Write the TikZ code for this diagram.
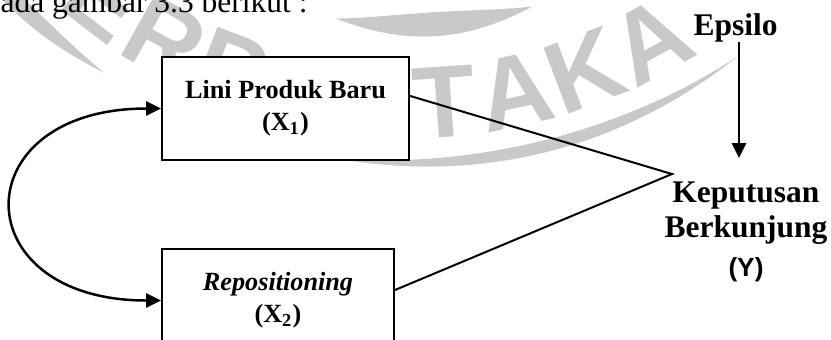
\documentclass[tikz,border=0pt]{standalone}
\usepackage{fontspec}
\setmainfont{Liberation Serif}
\newfontfamily\arialfont{Liberation Sans}
\usetikzlibrary{arrows.meta}
\definecolor{abuwm}{gray}{0.79}

\begin{document}
\begin{tikzpicture}[x=0.381pt, y=-0.381pt, >={Triangle[length=5.7pt,width=5.4pt]},
    kotak/.style={draw, line width=0.76pt, fill=white, minimum height=39.2pt, inner sep=0pt, align=center, font=\fontsize{10}{12.2}\selectfont\bfseries},
    label/.style={inner sep=0pt, align=center, font=\fontsize{12}{13.3}\selectfont\bfseries},
    huruf/.style={inner sep=0pt, text=abuwm, font=\arialfont\bfseries\fontsize{39}{39}\selectfont}]
    \clip (0,0) rectangle (831,339);
    \fill[white] (0,0) rectangle (831,339);

    % cap perpustakaan (latar)
    \fill[abuwm] plot[domain=-56:-33, samples=30, smooth] ({409+(560+8*sin((\x+56)*180/23))*sin(\x)}, {-397+(560+8*sin((\x+56)*180/23))*cos(\x)})
        -- plot[domain=-33:-56, samples=30, smooth] ({409+(560-8*sin((\x+56)*180/23))*sin(\x)}, {-397+(560-8*sin((\x+56)*180/23))*cos(\x)}) -- cycle;
    \fill[abuwm] plot[domain=-8:36, samples=40, smooth] ({409+(560+6*sin((\x+8)*180/44))*sin(\x)}, {-397+(560+6*sin((\x+8)*180/44))*cos(\x)})
        -- plot[domain=36:-8, samples=40, smooth] ({409+(560-6*sin((\x+8)*180/44))*sin(\x)}, {-397+(560-6*sin((\x+8)*180/44))*cos(\x)}) -- cycle;
    \fill[abuwm] plot[domain=-10:17, samples=30, smooth] ({409+(422+12*sin((\x+10)*180/27))*sin(\x)}, {-397+(422+12*sin((\x+10)*180/27))*cos(\x)})
        -- plot[domain=17:-10, samples=30, smooth] ({409+(422-12*sin((\x+10)*180/27))*sin(\x)}, {-397+(422-12*sin((\x+10)*180/27))*cos(\x)}) -- cycle;
    \foreach \h/\a [count=\i] in {E/-37.5, R/-29.2, P/-20.9, T/4.0, A/12.3, K/20.6, A/28.9}
        \node[huruf, rotate=\a] (wm\i) at ({409+500*sin(\a)}, {-397+500*cos(\a)}) {\h};

    % teks atas
    \node[inner sep=0pt, anchor=base west, font=\fontsize{12}{14}\selectfont] (teks) at (0,12.5) {ada gambar 3.3 berikut :};

    % variabel X1 dan X2
    \node[kotak, minimum width=94.1pt] (x1) at (285.5,108.5) {Lini Produk Baru\\(X\textsubscript{1})};
    \node[kotak, minimum width=88.4pt] (x2) at (278,300.5) {\textit{Repositioning}\\(X\textsubscript{2})};

    % variabel Y dan epsilon
    \node[label, anchor=north] (kep) at (746,181) {Keputusan\\Berkunjung\\[1.9pt]{\arialfont\fontsize{10}{12}\selectfont (Y)}};
    \node[label, anchor=base west] (eps) at (693,35) {Epsilo};
    \coordinate (temu) at (672,174);
    \coordinate (ujung) at (739,158);

    % garis dan panah
    \draw[<->, line width=0.95pt] (x1.west) to[out=180, in=180, looseness=2.65] (x2.west);
    \draw[line width=0.76pt] ([yshift=4.8pt]x1.east) -- (temu) -- ([yshift=4pt]x2.east);
    \draw[->, line width=0.76pt] (eps.south -| ujung) -- (ujung);
\end{tikzpicture}
\end{document}
